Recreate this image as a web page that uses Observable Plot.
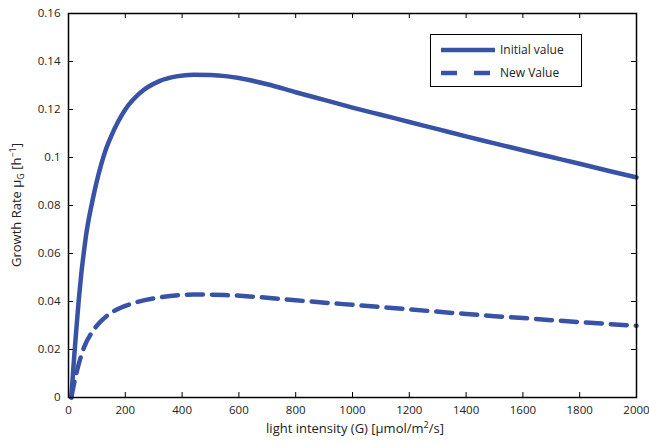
<!DOCTYPE html>
<html><head><meta charset="utf-8">
<script src="https://cdn.jsdelivr.net/npm/d3@7"></script>
<script src="https://cdn.jsdelivr.net/npm/@observablehq/plot@0.6"></script>
<style>
body{margin:0;background:#fff;}
#wrap{position:relative;width:649px;height:446px;font-family:"Open Sans",sans-serif;}
#legend{position:absolute;left:430px;top:34px;width:152px;height:53px;border:1.5px solid #000;background:#fff;box-sizing:border-box;color:#222;}
#legend svg{position:absolute;left:0;top:0;}
</style></head><body><div id="wrap"><div id="legend"></div></div>
<script>
const xTicks = [0, 200, 400, 600, 800, 1000, 1200, 1400, 1600, 1800, 2000];
const yTicks = [0, 0.02, 0.04, 0.06, 0.08, 0.1, 0.12, 0.14, 0.16];

const G_initial = [10, 19, 28, 36, 45, 54, 63, 72, 80, 97, 115, 132, 150, 175, 200, 250, 320, 380, 440, 500, 560, 600, 700, 800, 900, 1000, 1100, 1200, 1300, 1400, 1500, 1600, 1700, 1800, 1900, 2000];
const mu_initial = [0, 0.0155, 0.029, 0.0405, 0.0515, 0.0605, 0.0685, 0.0748, 0.0795, 0.0888, 0.0970, 0.1035, 0.1088, 0.1150, 0.1200, 0.1267, 0.1318, 0.1338, 0.1345, 0.1344, 0.1338, 0.1331, 0.1305, 0.1272, 0.1240, 0.1208, 0.1178, 0.1148, 0.1118, 0.1088, 0.1059, 0.1030, 0.1002, 0.0974, 0.0945, 0.0917];

const G_new = [10, 20, 34, 55, 80, 108, 160, 220, 320, 440, 550, 650, 800, 925, 1000, 1200, 1400, 1500, 1600, 1800, 2000];
const mu_new = [0, 0.006, 0.013, 0.021, 0.0267, 0.031, 0.036, 0.039, 0.0417, 0.0429, 0.0427, 0.042, 0.0405, 0.0393, 0.0386, 0.0367, 0.0348, 0.0339, 0.0331, 0.0314, 0.0299];

const seriesNames = ["Initial value", "New Value"];
const color = "#3853a6";

const initial = G_initial.map((g, i) => ({G: g, mu: mu_initial[i]}));
const newer = G_new.map((g, i) => ({G: g, mu: mu_new[i]}));

const W = 649, H = 446, mL = 68, mR = 13, mT = 13, mB = 49;
const tickPx = 5;
const xDom = [0, 2000], yDom = [0, 0.16];
const tx = (xDom[1] - xDom[0]) * tickPx / (W - mL - mR);
const ty = (yDom[1] - yDom[0]) * tickPx / (H - mT - mB);

const plot = Plot.plot({
  width: W, height: H,
  marginLeft: mL, marginRight: mR, marginTop: mT, marginBottom: mB,
  style: {fontFamily: "Open Sans", fontSize: "11.5px", color: "#222", background: "white", overflow: "visible"},
  x: {domain: xDom, ticks: xTicks, tickSize: 0, tickPadding: 8, label: null, tickFormat: d => String(d)},
  y: {domain: yDom, ticks: yTicks, tickSize: 0, tickPadding: 8, label: null, tickFormat: d => String(d)},
  marks: [
    Plot.line(initial, {x: "G", y: "mu", stroke: color, strokeWidth: 4.5, curve: "monotone-x"}),
    Plot.line(newer, {x: "G", y: "mu", stroke: color, strokeWidth: 4.5, curve: "monotone-x", strokeDasharray: "16,9"}),
    Plot.ruleX(xTicks, {x: d => d, y1: yDom[0], y2: yDom[0] + ty, stroke: "#000", strokeWidth: 1}),
    Plot.ruleX(xTicks, {x: d => d, y1: yDom[1] - ty, y2: yDom[1], stroke: "#000", strokeWidth: 1}),
    Plot.ruleY(yTicks, {y: d => d, x1: xDom[0], x2: xDom[0] + tx, stroke: "#000", strokeWidth: 1}),
    Plot.ruleY(yTicks, {y: d => d, x1: xDom[1] - tx, x2: xDom[1], stroke: "#000", strokeWidth: 1}),
    Plot.frame({stroke: "#000", strokeWidth: 1.5})
  ]
});

const svg = d3.select(plot);
const yl = svg.append("text")
  .attr("transform", `translate(21,${mT + (H - mT - mB) / 2}) rotate(-90)`)
  .attr("text-anchor", "middle")
  .attr("font-size", 13).attr("fill", "#222");
yl.append("tspan").text("Growth Rate μ");
yl.append("tspan").attr("dy", 3).attr("font-size", 9).text("G");
yl.append("tspan").attr("dy", -3).text(" [h");
yl.append("tspan").attr("dy", -5).attr("font-size", 9).text("−1");
yl.append("tspan").attr("dy", 5).text("]");

const xl = svg.append("text")
  .attr("x", 355).attr("y", 433)
  .attr("text-anchor", "middle")
  .attr("font-size", 13).attr("fill", "#222");
xl.append("tspan").text("light intensity (G) [μmol/m");
xl.append("tspan").attr("dy", -5).attr("font-size", 9).text("2");
xl.append("tspan").attr("dy", 5).text("/s]");

document.getElementById("wrap").insertBefore(plot, document.getElementById("legend"));
plot.style.position = "absolute"; plot.style.left = "0"; plot.style.top = "0";

// legend
const lg = d3.select("#legend").append("svg").attr("width", 152).attr("height", 53);
lg.append("line").attr("x1", 10).attr("x2", 64).attr("y1", 15).attr("y2", 15)
  .attr("stroke", color).attr("stroke-width", 4.5);
lg.append("line").attr("x1", 10).attr("x2", 59).attr("y1", 38).attr("y2", 38)
  .attr("stroke", color).attr("stroke-width", 4.5).attr("stroke-dasharray", "16,17");
seriesNames.forEach((s, i) => {
  lg.append("text").attr("x", 69).attr("y", 15 + i * 23).attr("dy", "0.35em")
    .attr("font-size", 12).attr("fill", "#222").attr("font-family", "Open Sans").text(s);
});
</script>
</body></html>
